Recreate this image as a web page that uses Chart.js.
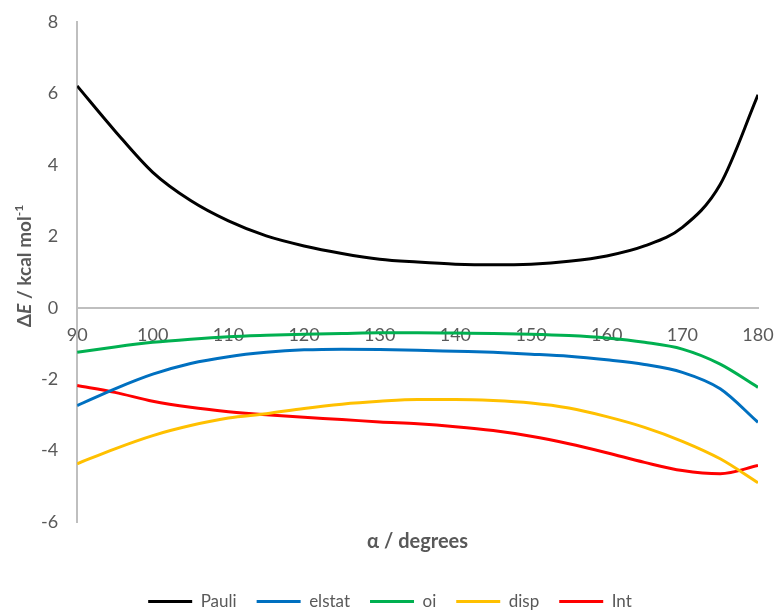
<!DOCTYPE html>
<html>
<head>
<meta charset="utf-8">
<script src="https://cdn.jsdelivr.net/npm/chart.js@4"></script>
<style>
html,body{margin:0;padding:0;background:#fff;}
canvas{display:block;}
</style>
</head>
<body>
<canvas id="c" width="775" height="611"></canvas>
<script>
const angles = [90,95,100,105,110,115,120,125,130,135,140,145,150,155,160,165,170,175,180];
const pauli  = [6.21,4.95,3.79,3.00,2.43,2.01,1.73,1.52,1.36,1.28,1.22,1.20,1.22,1.30,1.45,1.73,2.25,3.45,5.96];
const elstat = [-2.74,-2.27,-1.86,-1.56,-1.37,-1.25,-1.18,-1.16,-1.17,-1.19,-1.22,-1.25,-1.30,-1.36,-1.46,-1.59,-1.81,-2.27,-3.21];
const oi     = [-1.25,-1.10,-0.97,-0.88,-0.81,-0.77,-0.74,-0.72,-0.70,-0.70,-0.71,-0.72,-0.74,-0.78,-0.85,-0.97,-1.16,-1.58,-2.23];
const disp   = [-4.37,-3.95,-3.58,-3.30,-3.09,-2.97,-2.82,-2.70,-2.62,-2.57,-2.57,-2.60,-2.67,-2.81,-3.05,-3.35,-3.74,-4.23,-4.90];
const intE   = [-2.18,-2.37,-2.62,-2.79,-2.91,-3.00,-3.07,-3.13,-3.20,-3.25,-3.33,-3.44,-3.60,-3.81,-4.06,-4.33,-4.56,-4.65,-4.42];
const seriesNames = ['Pauli','elstat','oi','disp','Int'];
const seriesColors = ['#000000','#0070C0','#00B050','#FFC000','#FF0000'];
const xTitle = 'α / degrees';

const FONT = 'Lato, "Open Sans", sans-serif';
const allSeries = [pauli, elstat, oi, disp, intE];

const datasets = allSeries.map((vals, i) => ({
  label: seriesNames[i],
  data: angles.map((a, j) => ({x: a, y: vals[j]})),
  borderColor: seriesColors[i],
  backgroundColor: seriesColors[i],
  borderWidth: 3,
  pointRadius: 0,
  pointHoverRadius: 0,
  cubicInterpolationMode: 'monotone',
  fill: false,
  pointStyle: 'line'
}));

const yTitlePlugin = {
  id: 'yTitle',
  afterDraw(chart) {
    const ctx = chart.ctx;
    const ca = chart.chartArea;
    const parts = [
      {t: 'Δ', f: 'bold 19px ' + FONT, dy: 0},
      {t: 'E', f: 'italic bold 19px ' + FONT, dy: 0},
      {t: ' / kcal mol', f: 'bold 19px ' + FONT, dy: 0},
      {t: '-1', f: 'bold 12px ' + FONT, dy: -8}
    ];
    ctx.save();
    let total = 0;
    parts.forEach(p => { ctx.font = p.f; p.w = ctx.measureText(p.t).width; total += p.w; });
    ctx.translate(31, (ca.top + ca.bottom) / 2 - 6);
    ctx.rotate(-Math.PI / 2);
    ctx.fillStyle = '#595959';
    ctx.textBaseline = 'alphabetic';
    ctx.textAlign = 'left';
    let x = -total / 2;
    parts.forEach(p => { ctx.font = p.f; ctx.fillText(p.t, x, p.dy); x += p.w; });
    ctx.restore();
  }
};

new Chart(document.getElementById('c'), {
  type: 'line',
  data: { datasets },
  plugins: [yTitlePlugin],
  options: {
    responsive: false,
    devicePixelRatio: 1,
    animation: false,
    layout: { padding: { top: 22, left: 22, right: 17, bottom: -9 } },
    interaction: { mode: null },
    plugins: {
      tooltip: { enabled: false },
      title: {
        display: true,
        text: xTitle,
        position: 'bottom',
        fullSize: false,
        weight: 500,
        color: '#595959',
        font: { family: FONT, size: 20, weight: 'bold' },
        padding: { top: 8, bottom: 19 }
      },
      legend: {
        display: true,
        position: 'bottom',
        labels: {
          usePointStyle: true,
          pointStyleWidth: 44,
          color: '#595959',
          font: { family: FONT, size: 17 },
          padding: 20
        }
      }
    },
    scales: {
      x: {
        type: 'linear',
        position: { y: 0 },
        min: 90, max: 180,
        grid: { display: false, drawTicks: false },
        border: { display: true, color: '#BFBFBF', width: 2 },
        ticks: { stepSize: 10, color: '#595959', font: { family: FONT, size: 18 }, padding: 17, maxRotation: 0 },
        afterFit(scale) { scale.paddingLeft = 0; scale.paddingRight = 0; }
      },
      y: {
        type: 'linear',
        min: -6, max: 8,
        grid: { display: false, drawTicks: false },
        border: { display: true, color: '#BFBFBF', width: 2 },
        ticks: { stepSize: 2, color: '#595959', font: { family: FONT, size: 18 }, padding: 19 },
        afterFit(scale) { scale.paddingTop = 0; scale.paddingBottom = 0; }
      }
    }
  }
});
</script>
</body>
</html>
